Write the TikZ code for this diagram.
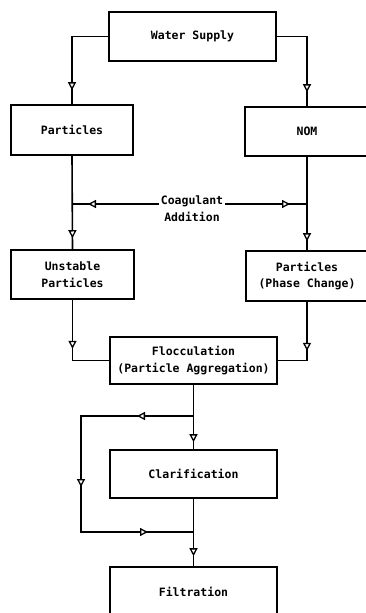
\documentclass[tikz,border=0pt]{standalone}
\usepackage{fontspec}
\setmonofont{DejaVu Sans Mono}
\usetikzlibrary{arrows.meta,decorations.markings}
\tikzset{
  box/.style={draw, line width=1.6pt, inner sep=0pt, align=center,
    font=\ttfamily\bfseries\fontsize{11.5}{16.5}\selectfont},
  lbl/.style={inner sep=1.5pt, font=\ttfamily\bfseries\fontsize{11.5}{16.5}\selectfont},
  conn/.style={line width=1.6pt},
  marrow/.style={postaction={decorate,decoration={markings,
    mark=at position #1 with {\arrow[line width=1.3pt]{Triangle[width=8pt,length=8pt,fill=white]}}}}}
}
\begin{document}
\begin{tikzpicture}[x=1pt,y=-1pt]
\clip (0,0) rectangle (366,613);
\fill[white] (0,0) rectangle (366,613);
% boxes
\node[box, minimum width=167pt, minimum height=49pt] (ws) at (192.5,36.5) {Water Supply};
\node[box, minimum width=122pt, minimum height=50pt] (part) at (72,130) {Particles};
\node[box, minimum width=124pt, minimum height=49pt] (nom) at (307,131.5) {NOM};
\node[box, minimum width=123pt, minimum height=49pt] (unst) at (72.5,274.5) {Unstable\\Particles};
\node[box, minimum width=122pt, minimum height=50pt] (phase) at (307,276) {Particles\\(Phase Change)};
\node[box, minimum width=167pt, minimum height=47pt] (floc) at (193.5,360.5) {Flocculation\\(Particle Aggregation)};
\node[box, minimum width=167pt, minimum height=48pt] (clar) at (193.5,474) {Clarification};
\node[box, minimum width=167pt, minimum height=49pt] (filt) at (193.5,591.5) {Filtration};
% coagulant label
\node[lbl, anchor=base] (coag) at (192,204) {Coagulant};
\node[lbl, anchor=base] (addn) at (192,221) {Addition};
\coordinate (jl) at (72,204);
\coordinate (jr) at (307,204);
% connectors
\draw[conn, marrow=-14pt] (ws.west) -| (part.north);
\draw[conn, marrow=-14pt] (ws.east) -| (nom.north);
\draw[conn, marrow=-11pt] (part.south) -- (unst.north);
\draw[conn, marrow=-9pt] (nom.south) -- (phase.north);
\draw[conn, marrow=-16pt] (coag.base west) -- (jl);
\draw[conn, marrow=-17pt] (coag.base east) -- (jr);
\draw[conn, marrow=49pt] (unst.south) |- (floc.west);
\draw[conn, marrow=49pt] (phase.south) |- (floc.east);
\draw[conn, marrow=-7pt] (floc.south) -- (clar.north);
\coordinate (bt) at (193.5,416);
\coordinate (bb) at (193.5,532);
\coordinate (bl) at (81,416);
\draw[conn, marrow=56.5pt, marrow=183.5pt, marrow=-45.5pt] (bt) -- (bl) |- (bb);
\draw[conn, marrow=-10pt] (clar.south) -- (filt.north);
\end{tikzpicture}
\end{document}
